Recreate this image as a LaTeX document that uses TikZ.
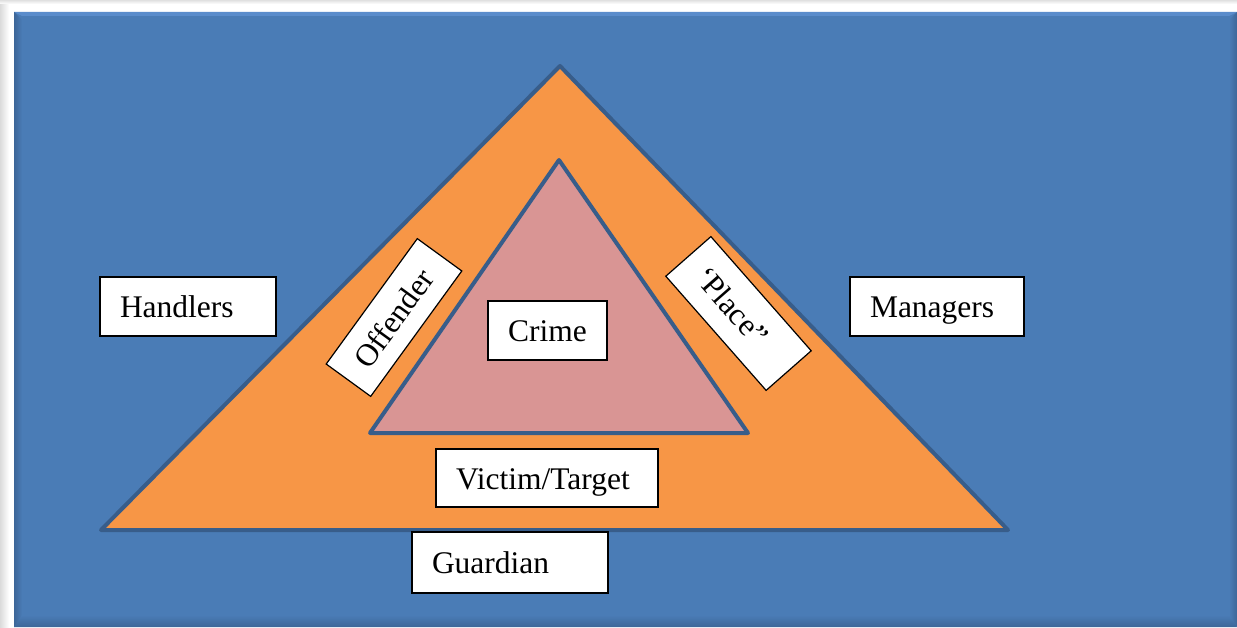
\documentclass[tikz,border=0pt]{standalone}
\usepackage{fontspec}
\setmainfont{Liberation Serif}
\definecolor{panelblue}{HTML}{4A7CB6}
\definecolor{paneldark}{HTML}{3C6698}
\definecolor{panellight}{HTML}{5A8CCB}
\definecolor{triedge}{HTML}{385D8A}
\definecolor{outerfill}{HTML}{F79646}
\definecolor{innerfill}{HTML}{D99594}
\begin{document}
\begin{tikzpicture}[x=1pt,y=-1pt,
  tri/.style={draw=triedge, line width=4pt, line join=round},
  tag/.style={draw=black, fill=white, line width=1.2pt, align=left,
    inner xsep=20pt, inner ysep=0pt, text height=25pt, text depth=3pt,
    font=\fontsize{31.5}{37}\selectfont}]
\useasboundingbox (0,0) rectangle (1237,628);
% page with soft shadow round the panel
\fill[white] (0,0) rectangle (1237,628);
\shade[left color=black!14, right color=white] (0,0) rectangle (9,628);
\shade[top color=black!12, bottom color=white] (0,0) rectangle (1237,4);
% bevelled blue panel
\fill[panelblue] (14,12) rectangle (1237,627);
\fill[panellight] (14,12) -- (1237,12) -- (1229,16) -- (22,16) -- cycle;
\shade[left color=paneldark, right color=panelblue] (14,12) -- (22,20) -- (22,617) -- (14,627) -- cycle;
\shade[top color=panelblue, bottom color=paneldark] (14,627) -- (22,615) -- (1229,615) -- (1237,627) -- cycle;
\shade[left color=panelblue, right color=paneldark] (1237,12) -- (1229,20) -- (1229,615) -- (1237,627) -- cycle;
% triangles
\coordinate (oTop) at (560,66);
\coordinate (oLeft) at (101,530);
\coordinate (oRight) at (1008,530);
\coordinate (iTop) at (559,160);
\coordinate (iLeft) at (370,433);
\coordinate (iRight) at (748,433);
\filldraw[tri, fill=outerfill] (oTop) -- (oRight) -- (oLeft) -- cycle;
\filldraw[tri, fill=innerfill] (iTop) -- (iRight) -- (iLeft) -- cycle;
% labels
\node[tag, text width=136pt, minimum height=59pt] (handlers) at (188,306.5) {Handlers};
\node[tag, text width=134pt, minimum height=59pt] (managers) at (937,306.5) {Managers};
\node[tag, text width=79pt, minimum height=59pt] (crime) at (547.5,330.5) {Crime};
\node[tag, text width=182pt, minimum height=58pt] (victim) at (547,478) {Victim/Target};
\node[tag, text width=156pt, minimum height=61pt] (guardian) at (510,562.5) {Guardian};
\node[tag, text width=115pt, minimum height=55pt, rotate=54] (offender) at (394,317.5) {Offender};
\node[tag, text width=112pt, minimum height=60pt, rotate=-48.7] (place) at (738.5,313.5) {‘Place”};
\end{tikzpicture}
\end{document}
